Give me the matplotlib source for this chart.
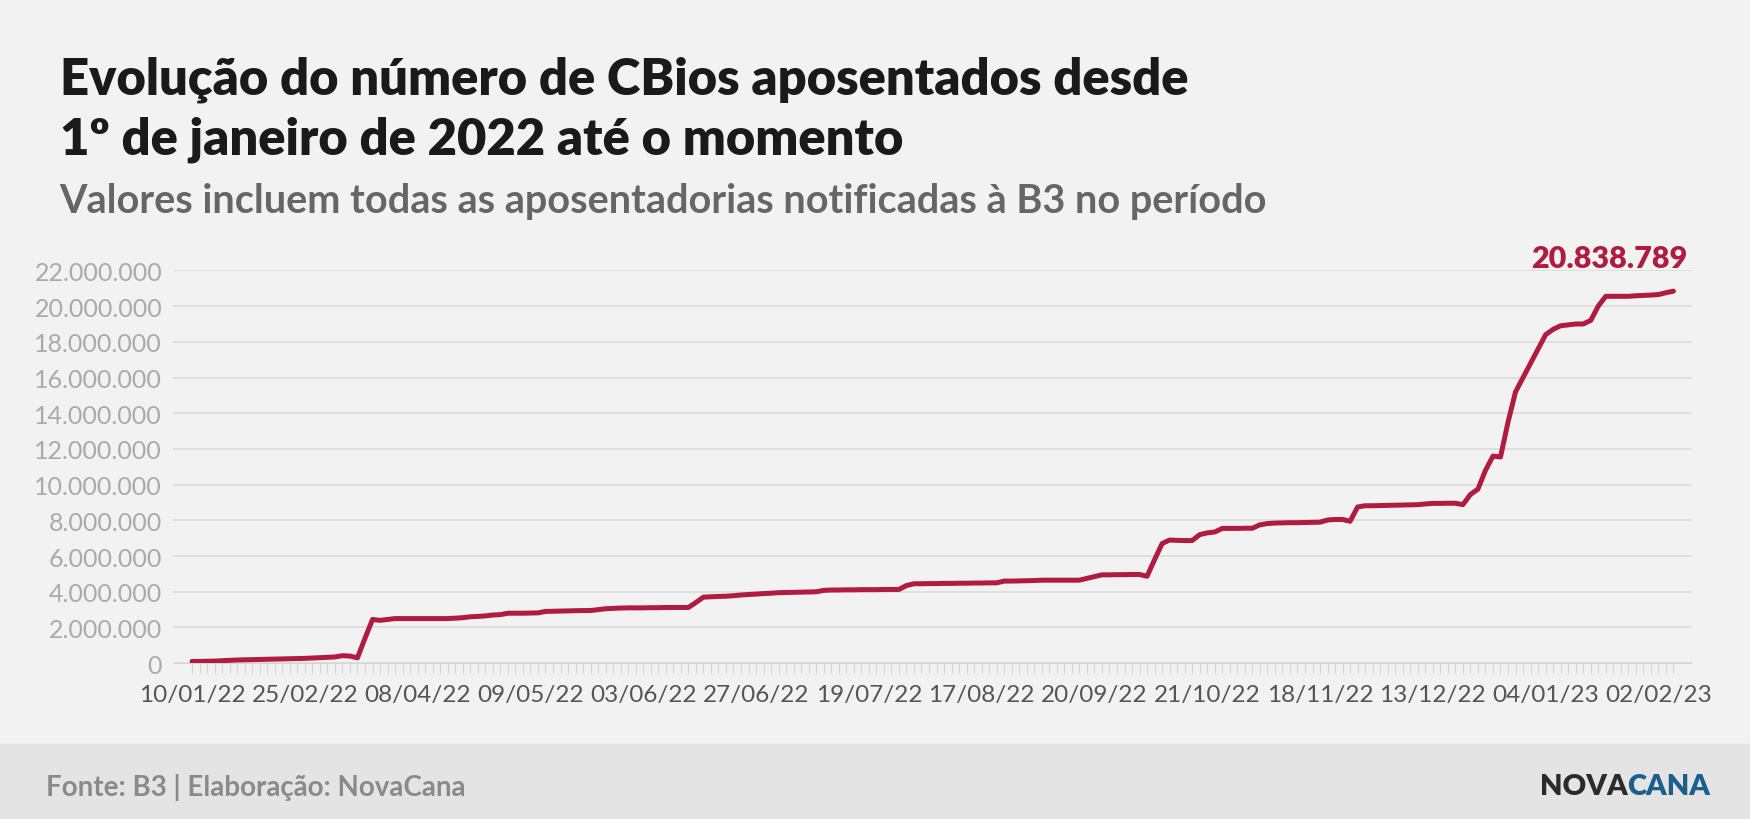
import matplotlib
matplotlib.use("Agg")
import matplotlib.pyplot as plt
from matplotlib.ticker import FuncFormatter

# cumulative retired CBios (millions), one value per reported date
values_m = [
    0.10,0.10,0.11,0.12,0.14,0.16,0.18,0.19,0.20,0.21,
    0.22,0.23,0.24,0.25,0.26,0.27,0.29,0.31,0.33,0.35,
    0.42,0.40,0.30,1.40,2.45,2.40,2.45,
    2.50,2.50,2.50,2.50,2.50,2.50,2.50,2.50,
    2.52,2.55,2.60,2.62,2.65,2.70,2.72,2.80,
    2.80,2.80,2.81,2.82,
    2.90,2.91,2.92,2.93,2.94,2.95,2.95,3.00,3.05,3.07,3.09,
    3.10,3.10,3.10,3.11,3.11,3.12,3.12,3.12,3.12,
    3.40,3.70,3.72,3.74,3.75,3.78,3.82,3.85,3.87,3.90,3.92,3.95,3.96,3.97,3.98,3.99,4.00,4.08,4.10,
    4.10,4.11,4.11,4.12,4.12,4.12,4.13,4.13,4.13,
    4.35,4.45,
    4.45,4.46,4.46,4.47,4.47,4.48,4.48,4.49,4.49,4.50,4.50,
    4.60,4.60,4.61,4.62,4.63,4.65,
    4.65,4.65,4.65,4.65,4.65,
    4.75,4.85,4.95,4.95,4.96,4.96,4.97,4.97,
    4.87,5.80,6.70,6.90,6.88,6.87,6.87,7.20,7.30,7.35,7.55,7.55,7.55,7.56,7.56,
    7.75,7.82,7.85,7.86,7.87,7.87,7.88,7.89,7.90,8.02,8.05,8.05,7.95,8.75,8.82,
    8.82,8.83,8.84,8.85,8.86,8.87,8.88,8.92,8.95,8.95,8.96,8.96,8.88,
    9.45,9.75,10.8,11.6,11.55,13.5,15.2,16.0,16.8,17.6,18.4,18.7,18.9,18.95,19.0,19.0,19.2,20.0,
    20.55,20.55,20.55,20.55,20.58,20.60,20.62,20.65,20.75,20.838789,
]
values = [v * 1e6 for v in values_m]
date_labels = ["10/01/22", "25/02/22", "08/04/22", "09/05/22", "03/06/22", "27/06/22",
               "19/07/22", "17/08/22", "20/09/22", "21/10/22", "18/11/22", "13/12/22",
               "04/01/23", "02/02/23"]
label_step = 15
last_label = "20.838.789"

RED = "#B01C40"
BG = "#F2F2F2"
plt.rcParams['font.family'] = ['Lato', 'DejaVu Sans']

fig = plt.figure(figsize=(17.5, 8.2), dpi=100, facecolor=BG)
ax = fig.add_axes([0.099, 0.190, 0.868, 0.479], facecolor=BG)

n = len(values)
x = list(range(n))
ax.plot(x, values, color=RED, lw=3.6, solid_joinstyle='round', solid_capstyle='round', zorder=3)

ax.set_ylim(0, 22e6)
ax.set_xlim(-2.5, n + 1.5)
ax.set_yticks([i * 2e6 for i in range(12)])
ax.yaxis.set_major_formatter(FuncFormatter(lambda v, p: f"{int(v):,}".replace(",", ".")))
ax.grid(axis='y', color='#DCDCDC', lw=1.2)
ax.set_axisbelow(True)

ticks = list(range(n))
labels = [date_labels[i // label_step] if (i % label_step == 0 and i // label_step < len(date_labels)) else "" for i in ticks]
ax.set_xticks(ticks)
ax.set_xticklabels(labels)
ax.tick_params(axis='x', length=7, width=0.8, color='#D5D5D5', labelsize=17.5, labelcolor='#555555', pad=8)
ax.tick_params(axis='y', length=0, labelsize=18, labelcolor='#AAAAAA', pad=8)
for s in ['top', 'right', 'left']:
    ax.spines[s].set_visible(False)
ax.spines['bottom'].set_color('#D5D5D5')

ax.annotate(last_label, xy=(x[-1], values[-1]), xytext=(10, 14), textcoords='offset points',
            ha='right', va='bottom', color=RED, fontsize=22, fontweight='heavy', annotation_clip=False)

fig.text(0.034, 0.885, "Evolução do número de CBios aposentados desde", fontsize=36.5, fontweight='heavy', color='#1A1A1A')
fig.text(0.034, 0.812, "1º de janeiro de 2022 até o momento", fontsize=36.5, fontweight='heavy', color='#1A1A1A')
fig.text(0.034, 0.740, "Valores incluem todas as aposentadorias notificadas à B3 no período", fontsize=28.5, fontweight='bold', color='#666666')

# footer band
fig.patches.append(plt.Rectangle((0, 0), 1, 0.092, transform=fig.transFigure, color='#E4E4E4', zorder=0))
fig.text(0.026, 0.040, "Fonte: B3 | Elaboração: NovaCana", fontsize=20, fontweight='bold', color='#8A8A8A', va='center')
fig.text(0.930, 0.040, "NOVA", fontsize=21, fontweight='heavy', color='#2B2B2B', va='center', ha='right')
fig.text(0.930, 0.040, "CANA", fontsize=21, fontweight='heavy', color='#1C5E8C', va='center', ha='left')

fig.savefig("out.png", dpi=100, facecolor=BG)
